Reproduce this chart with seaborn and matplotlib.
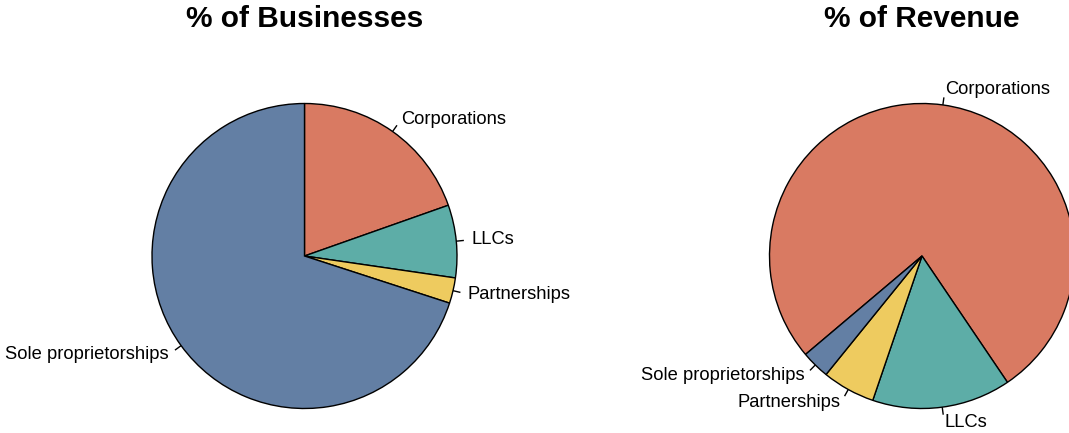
import numpy as np
import matplotlib
matplotlib.use("Agg")
import matplotlib.pyplot as plt
import seaborn as sns

# Share of US businesses vs. share of revenue, by legal form
entity_types = ["Corporations", "LLCs", "Partnerships", "Sole proprietorships"]
pct_businesses = [19.6, 7.7, 2.7, 70.0]
pct_revenue = [76.7, 14.7, 5.6, 3.0]
titles = ["% of Businesses", "% of Revenue"]

palette = ["#D97A62", "#5DADA7", "#EECB5F", "#637FA4"]

sns.set_style("white")
plt.rcParams["font.family"] = ["Liberation Sans", "DejaVu Sans"]

W, H = 1069, 433
fig = plt.figure(figsize=(W / 100, H / 100), dpi=100)
ax = fig.add_axes([0, 0, 1, 1])

R = 152.5
centers = [(304.5, H - 256), (922.0, H - 256)]
start_angles = [90, 220.2]

for values, title, (cx, cy), start in zip(
        [pct_businesses, pct_revenue], titles, centers, start_angles):
    wedges, texts = ax.pie(
        values, labels=entity_types, colors=palette, startangle=start,
        counterclock=False, center=(cx, cy), radius=R, labeldistance=1.1,
        wedgeprops=dict(edgecolor="black", linewidth=1.0),
        textprops=dict(fontsize=13.2, color="black"),
    )
    # short leader ticks from the rim towards each label
    for w, t in zip(wedges, texts):
        mid = np.deg2rad((w.theta1 + w.theta2) / 2)
        c, s = np.cos(mid), np.sin(mid)
        ax.plot([cx + R * c, cx + 1.05 * R * c],
                [cy + R * s, cy + 1.05 * R * s],
                color="black", linewidth=1.0, solid_capstyle="butt")
        t.set_horizontalalignment("left" if c > 0 else "right")
        t.set_verticalalignment("center")
    ax.text(cx, H - 19, title, ha="center", va="center",
            fontsize=21.5, fontweight="bold", color="black")

ax.set_xlim(0, W)
ax.set_ylim(0, H)
ax.set_aspect("equal", adjustable="box")
ax.axis("off")

fig.savefig("out.png", dpi=100, facecolor="white")
